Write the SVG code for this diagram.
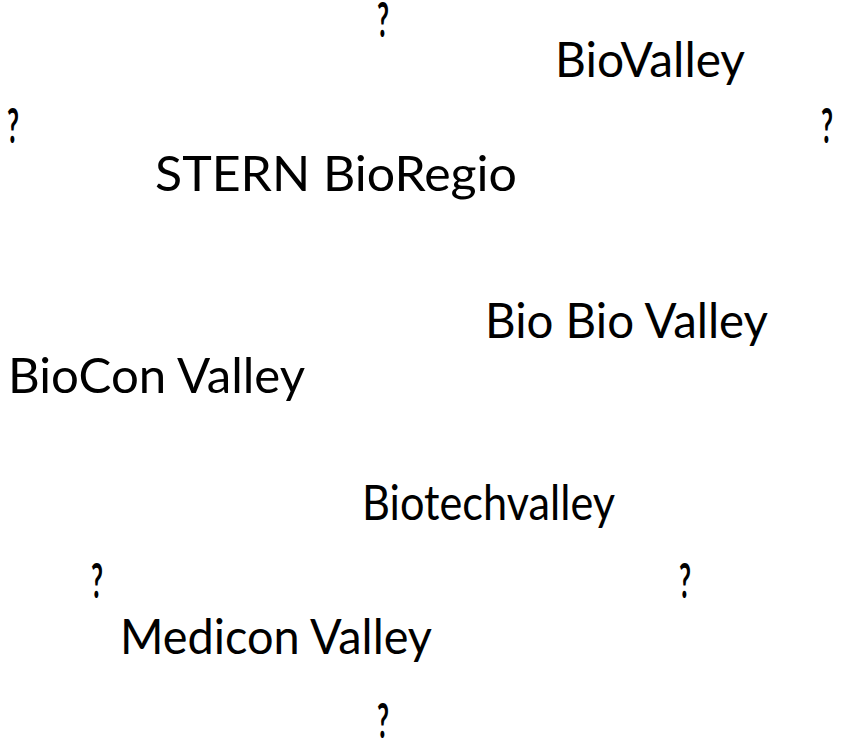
<svg xmlns="http://www.w3.org/2000/svg" width="846" height="746" viewBox="0 0 846 746">
<style>
.t{font-family:"Lato","Liberation Sans",sans-serif;font-size:48px;fill:#000}
.q{font-family:"Lato","Liberation Sans",sans-serif;font-size:48px;font-weight:bold;fill:#000}
</style>
<rect width="846" height="746" fill="#fff"/>
<g id="q1"><text class="q" x="377" y="37" textLength="12" lengthAdjust="spacingAndGlyphs">?</text></g>
<g id="biovalley"><text class="t" x="555" y="77" textLength="190" lengthAdjust="spacingAndGlyphs">BioValley</text></g>
<g id="q2"><text class="q" x="7" y="143" textLength="12" lengthAdjust="spacingAndGlyphs">?</text></g>
<g id="q3"><text class="q" x="821" y="143" textLength="12" lengthAdjust="spacingAndGlyphs">?</text></g>
<g id="stern"><text class="t" x="155" y="191" textLength="362" lengthAdjust="spacingAndGlyphs">STERN BioRegio</text></g>
<g id="biobio"><text class="t" x="485" y="338" textLength="283" lengthAdjust="spacingAndGlyphs">Bio Bio Valley</text></g>
<g id="biocon"><text class="t" x="8" y="393" textLength="297" lengthAdjust="spacingAndGlyphs">BioCon Valley</text></g>
<g id="biotech"><text class="t" x="362" y="520" textLength="253" lengthAdjust="spacingAndGlyphs">Biotechvalley</text></g>
<g id="q4"><text class="q" x="91" y="598" textLength="12" lengthAdjust="spacingAndGlyphs">?</text></g>
<g id="q5"><text class="q" x="679" y="598" textLength="12" lengthAdjust="spacingAndGlyphs">?</text></g>
<g id="medicon"><text class="t" x="120" y="654" textLength="312" lengthAdjust="spacingAndGlyphs">Medicon Valley</text></g>
<g id="q6"><text class="q" x="377" y="738" textLength="12" lengthAdjust="spacingAndGlyphs">?</text></g>
<g id="connectors"></g>
</svg>
